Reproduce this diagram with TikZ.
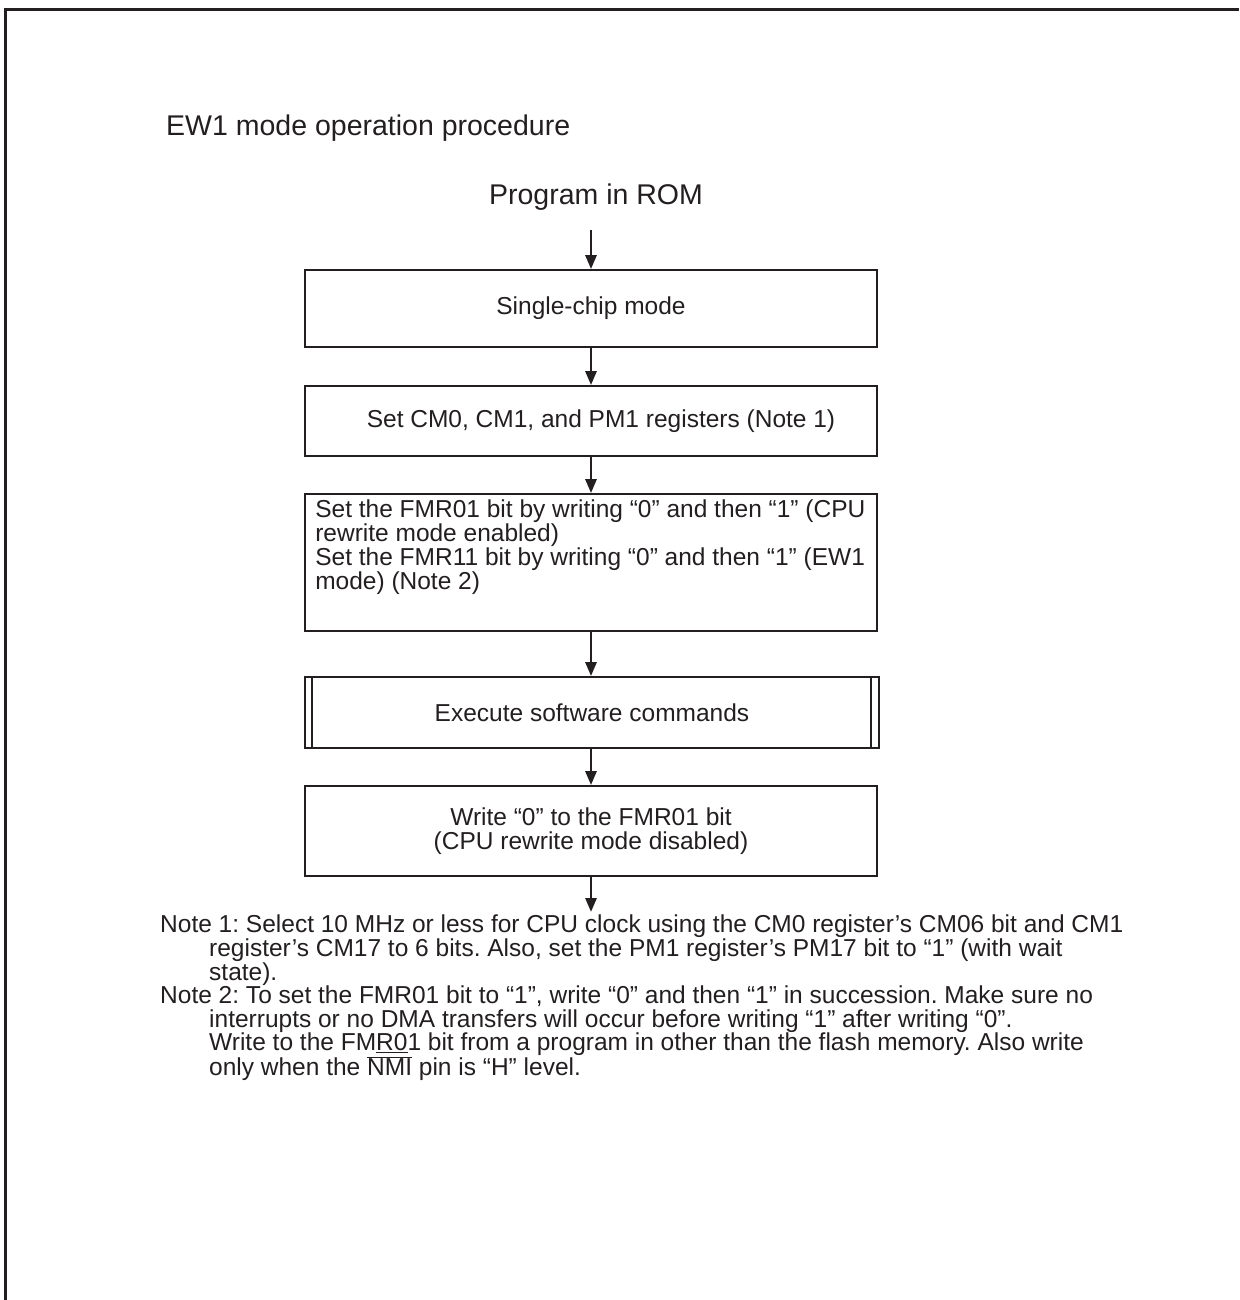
\documentclass[tikz,border=0pt]{standalone}
\usepackage{fontspec}
\setmainfont{Liberation Sans}
\usetikzlibrary{arrows.meta}
\definecolor{ink}{RGB}{35,31,32}
\frenchspacing
\begin{document}
\begin{tikzpicture}[x=1pt,y=-1pt,
  txt/.style={text=ink, inner sep=0pt, font=\fontsize{24.5}{24}\selectfont},
  big/.style={text=ink, inner sep=0pt, font=\fontsize{28.5}{30}\selectfont},
  box/.style={draw=ink, line width=1.8pt, minimum width=572pt, inner sep=0pt, text=ink, font=\fontsize{24.5}{24}\selectfont},
  flow/.style={draw=ink, line width=2.8pt, -{Triangle[length=14pt,width=11pt]}},
  side/.style={draw=ink, line width=1.8pt}]
\useasboundingbox (0,0) rectangle (1239,1300);
\draw[ink, line width=3pt] (5,1300) -- (5,10) -- (1239,10);

\node[big, anchor=west] (title) at (166,128) {EW1 mode operation procedure};
\node[big] (rom) at (596,197) {Program in ROM};
\coordinate (romout) at (591,230);

\node[box, minimum height=77pt] (b1) at (591,308.5) {Single-chip mode};
\node[box, minimum height=70pt] (b2) at (591,421) {\hspace*{20pt}Set CM0, CM1, and PM1 registers (Note 1)};
\node[box, minimum height=137pt] (b3) at (591,562.5) {};
\node[txt, anchor=north west, align=left] (b3t) at ([shift={(11,6)}]b3.north west)
  {Set the FMR01 bit by writing “0” and then “1” (CPU\\rewrite mode enabled)\\Set the FMR11 bit by writing “0” and then “1” (EW1\\mode) (Note 2)};
\node[box, minimum width=574pt, minimum height=71pt] (b4) at (592,712.5) {Execute software commands};
\draw[side] ([xshift=8pt]b4.north west) -- ([xshift=8pt]b4.south west);
\draw[side] ([xshift=-9pt]b4.north east) -- ([xshift=-9pt]b4.south east);
\node[box, minimum height=90pt, align=center] (b5) at (591,831) {Write “0” to the FMR01 bit\\(CPU rewrite mode disabled)};
\coordinate (endp) at (591,912);

\draw[flow] (romout) -- (b1.north);
\draw[flow] (b1.south) -- (b2.north);
\draw[flow] (b2.south) -- (b3.north);
\draw[flow] (b3.south) -- (b3.south |- b4.north);
\draw[flow] (b3.south |- b4.south) -- (b5.north);
\draw[flow] (b5.south) -- (endp);

\node[txt, anchor=north west, align=left, font=\fontsize{24.5}{23.6}\selectfont] (notes) at (160,915)
  {Note 1: Select 10 MHz or less for CPU clock using the CM0 register’s CM06 bit and CM1\\
   \hspace*{49pt}register’s CM17 to 6 bits. Also, set the PM1 register’s PM17 bit to “1” (with wait\\
   \hspace*{49pt}state).\\
   Note 2: To set the FMR01 bit to “1”, write “0” and then “1” in succession. Make sure no\\
   \hspace*{49pt}interrupts or no DMA transfers will occur before writing “1” after writing “0”.\\
   \hspace*{49pt}Write to the FM\underline{R0}1 bit from a program in other than the flash memory. Also write\\
   \hspace*{49pt}only when the $\overline{\mbox{NMI}}$ pin is “H” level.};
\end{tikzpicture}
\end{document}
